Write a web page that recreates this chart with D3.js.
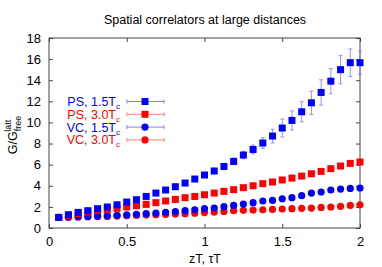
<!DOCTYPE html>
<html>
<head>
<meta charset="utf-8">
<script src="https://cdn.jsdelivr.net/npm/d3@7"></script>
<style>
  body { margin: 0; background: #fff; }
  text { font-family: "Liberation Sans", Arial, sans-serif; }
</style>
</head>
<body>
<div id="graph"></div>
<script>
"use strict";

// zT values: n/16, n = 1..32
var zT = [0.0625, 0.125, 0.1875, 0.25, 0.3125, 0.375, 0.4375, 0.5,
          0.5625, 0.625, 0.6875, 0.75, 0.8125, 0.875, 0.9375, 1.0,
          1.0625, 1.125, 1.1875, 1.25, 1.3125, 1.375, 1.4375, 1.5,
          1.5625, 1.625, 1.6875, 1.75, 1.8125, 1.875, 1.9375, 2.0];

var ps15 = [1.0, 1.26, 1.48, 1.64, 1.83, 1.99, 2.2, 2.46,
            2.68, 2.99, 3.31, 3.6, 3.91, 4.26, 4.64, 5.02,
            5.4, 5.83, 6.31, 6.91, 7.44, 8.05, 8.71, 9.47,
            10.19, 11.01, 11.86, 12.84, 13.91, 15.0, 15.66, 15.66];
var ps15err = [0.02, 0.03, 0.04, 0.05, 0.06, 0.07, 0.08, 0.1,
               0.11, 0.12, 0.14, 0.15, 0.17, 0.19, 0.21, 0.23,
               0.26, 0.28, 0.31, 0.35, 0.42, 0.5, 0.65, 0.85,
               0.9, 0.95, 1.1, 1.2, 1.2, 1.33, 1.3, 1.1];

var ps30 = [1.0, 1.19, 1.35, 1.51, 1.64, 1.73, 1.86, 1.99,
            2.11, 2.24, 2.4, 2.56, 2.71, 2.87, 2.99, 3.15,
            3.31, 3.47, 3.63, 3.82, 4.0, 4.2, 4.36, 4.55,
            4.73, 4.92, 5.14, 5.36, 5.62, 5.87, 6.12, 6.25];
var ps30err = [0.01, 0.01, 0.02, 0.02, 0.02, 0.03, 0.03, 0.03,
               0.04, 0.04, 0.04, 0.05, 0.05, 0.05, 0.06, 0.06,
               0.06, 0.07, 0.07, 0.07, 0.08, 0.08, 0.09, 0.09,
               0.1, 0.1, 0.11, 0.12, 0.13, 0.14, 0.15, 0.16];

var vc15 = [1.0, 1.04, 1.07, 1.1, 1.13, 1.16, 1.2, 1.25,
            1.3, 1.36, 1.42, 1.49, 1.56, 1.64, 1.73, 1.83,
            1.89, 2.02, 2.14, 2.27, 2.4, 2.56, 2.61, 2.77,
            2.87, 3.06, 3.31, 3.41, 3.6, 3.69, 3.75, 3.79];
var vc15err = [0.01, 0.01, 0.01, 0.01, 0.02, 0.02, 0.02, 0.02,
               0.02, 0.03, 0.03, 0.03, 0.03, 0.04, 0.04, 0.04,
               0.05, 0.05, 0.05, 0.06, 0.06, 0.07, 0.07, 0.08,
               0.08, 0.09, 0.1, 0.1, 0.11, 0.12, 0.12, 0.13];

var vc30 = [1.0, 1.02, 1.04, 1.06, 1.08, 1.1, 1.13, 1.16,
            1.19, 1.22, 1.25, 1.28, 1.32, 1.36, 1.4, 1.46,
            1.51, 1.57, 1.64, 1.67, 1.7, 1.73, 1.76, 1.8,
            1.83, 1.86, 1.89, 1.95, 1.99, 2.05, 2.14, 2.2];
var vc30err = [0.01, 0.01, 0.01, 0.01, 0.01, 0.01, 0.01, 0.01,
               0.01, 0.01, 0.02, 0.02, 0.02, 0.02, 0.02, 0.02,
               0.02, 0.02, 0.03, 0.03, 0.03, 0.03, 0.03, 0.03,
               0.04, 0.04, 0.04, 0.04, 0.05, 0.05, 0.05, 0.05];

var xTicks = [0, 0.5, 1, 1.5, 2];
var yTicks = [0, 2, 4, 6, 8, 10, 12, 14, 16, 18];

var series = [
  { name: "PS, 1.5T", y: ps15, e: ps15err, color: "#0000ff", bar: "#8080ff", shape: "square" },
  { name: "PS, 3.0T", y: ps30, e: ps30err, color: "#ff0000", bar: "#ff8080", shape: "square" },
  { name: "VC, 1.5T", y: vc15, e: vc15err, color: "#0000ff", bar: "#8080ff", shape: "circle" },
  { name: "VC, 3.0T", y: vc30, e: vc30err, color: "#ff0000", bar: "#ff8080", shape: "circle" }
];

var W = 382, H = 267,
    m = { left: 49, right: 22, top: 38, bottom: 39 };

var svg = d3.select("#graph").append("svg")
  .attr("width", W).attr("height", H);

var x = d3.scaleLinear().domain([0, 2]).range([m.left, W - m.right]);
var y = d3.scaleLinear().domain([0, 18]).range([H - m.bottom, m.top]);

// axes (ticks inward, mirrored)
svg.append("g")
  .attr("transform", "translate(0," + (H - m.bottom) + ")")
  .call(d3.axisBottom(x).tickValues(xTicks).tickSizeInner(-4).tickSizeOuter(0).tickPadding(9)
        .tickFormat(function(d) { return d3.format("")(d); }));
svg.append("g")
  .attr("transform", "translate(0," + m.top + ")")
  .call(d3.axisTop(x).tickValues(xTicks).tickSizeInner(-4).tickSizeOuter(0).tickFormat(""));
svg.append("g")
  .attr("transform", "translate(" + m.left + ",0)")
  .call(d3.axisLeft(y).tickValues(yTicks).tickSizeInner(-4).tickSizeOuter(0).tickPadding(8));
svg.append("g")
  .attr("transform", "translate(" + (W - m.right) + ",0)")
  .call(d3.axisRight(y).tickValues(yTicks).tickSizeInner(-4).tickSizeOuter(0).tickFormat(""));

svg.selectAll(".domain").remove();
svg.selectAll(".tick line").attr("stroke", "#444");
svg.selectAll(".tick text").attr("font-size", 13).attr("fill", "#000")
  .style("font-family", "Liberation Sans, Arial, sans-serif");

svg.append("rect")
  .attr("x", m.left).attr("y", m.top)
  .attr("width", W - m.left - m.right).attr("height", H - m.top - m.bottom)
  .attr("fill", "none").attr("stroke", "#444").attr("stroke-width", 1);

// title and labels
svg.append("text")
  .attr("x", 205).attr("y", 24)
  .attr("text-anchor", "middle").attr("font-size", 12.5)
  .text("Spatial correlators at large distances");

svg.append("text")
  .attr("x", 205).attr("y", 263)
  .attr("text-anchor", "middle").attr("font-size", 12.5)
  .text("zT, τT");

var yl = svg.append("text")
  .attr("transform", "translate(17,135) rotate(-90)")
  .attr("text-anchor", "middle").attr("font-size", 12.5);
yl.append("tspan").text("G/G");
yl.append("tspan").attr("font-size", 9).attr("dy", 4).text("free");
yl.append("tspan").attr("font-size", 9).attr("dx", -16).attr("dy", -10).text("latt");

function drawMarker(g, shape, color) {
  if (shape === "square") {
    g.append("rect").attr("x", -3.5).attr("y", -3.5).attr("width", 7).attr("height", 7)
      .attr("fill", color);
  } else {
    g.append("circle").attr("r", 3.6).attr("fill", color);
  }
}

// draw series (last first so blue squares sit on top)
series.slice().reverse().forEach(function(s) {
  var g = svg.append("g");
  var pts = zT.map(function(v, i) { return { x: v, y: s.y[i], e: s.e[i] }; });

  var eb = g.selectAll(".eb").data(pts).enter().append("g")
    .attr("stroke", s.bar).attr("stroke-width", 1).attr("opacity", 0.85);
  eb.append("line")
    .attr("x1", function(d) { return x(d.x); }).attr("x2", function(d) { return x(d.x); })
    .attr("y1", function(d) { return y(d.y - d.e); }).attr("y2", function(d) { return y(d.y + d.e); });
  eb.append("line")
    .attr("x1", function(d) { return x(d.x) - 2; }).attr("x2", function(d) { return x(d.x) + 2; })
    .attr("y1", function(d) { return y(d.y - d.e); }).attr("y2", function(d) { return y(d.y - d.e); });
  eb.append("line")
    .attr("x1", function(d) { return x(d.x) - 2; }).attr("x2", function(d) { return x(d.x) + 2; })
    .attr("y1", function(d) { return y(d.y + d.e); }).attr("y2", function(d) { return y(d.y + d.e); });

  g.selectAll(".pt").data(pts).enter().append("g")
    .attr("transform", function(d) { return "translate(" + x(d.x) + "," + y(d.y) + ")"; })
    .each(function() { drawMarker(d3.select(this), s.shape, s.color); });
});

// legend
var leg = svg.append("g");
series.forEach(function(s, i) {
  var ly = 101.5 + i * 12.8;
  var t = leg.append("text")
    .attr("x", 120).attr("y", ly + 4.5)
    .attr("text-anchor", "end").attr("font-size", 12.5)
    .attr("fill", s.color);
  t.append("tspan").text(s.name);
  t.append("tspan").attr("font-size", 8).attr("dy", 3).text("c");

  leg.append("line").attr("x1", 127).attr("x2", 164).attr("y1", ly).attr("y2", ly)
    .attr("stroke", s.bar).attr("stroke-width", 1);
  leg.append("line").attr("x1", 127).attr("x2", 127).attr("y1", ly - 2).attr("y2", ly + 2)
    .attr("stroke", s.bar);
  leg.append("line").attr("x1", 164).attr("x2", 164).attr("y1", ly - 2).attr("y2", ly + 2)
    .attr("stroke", s.bar);
  var mk = leg.append("g").attr("transform", "translate(145," + ly + ")");
  drawMarker(mk, s.shape, s.color);
});
</script>
</body>
</html>
